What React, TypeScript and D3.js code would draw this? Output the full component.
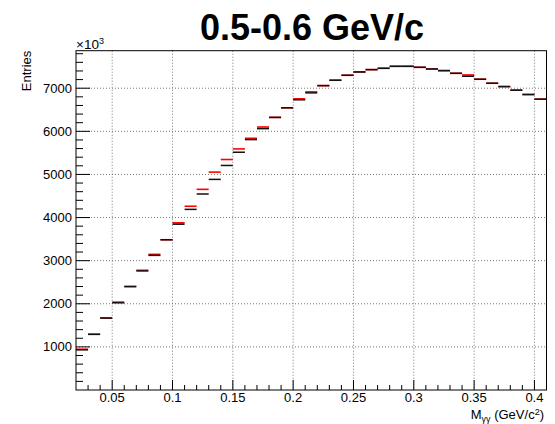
import React from "react";
import * as d3 from "d3";

const binLow = [
  0.02, 0.03, 0.04, 0.05, 0.06, 0.07, 0.08, 0.09, 0.1, 0.11, 0.12, 0.13, 0.14,
  0.15, 0.16, 0.17, 0.18, 0.19, 0.2, 0.21, 0.22, 0.23, 0.24, 0.25, 0.26, 0.27,
  0.28, 0.29, 0.3, 0.31, 0.32, 0.33, 0.34, 0.35, 0.36, 0.37, 0.38, 0.39, 0.4,
];
const binWidth = 0.01;

const blackValues = [
  931, 1292, 1669, 2023, 2400, 2762, 3123, 3485, 3846, 4190, 4546, 4885, 5208,
  5515, 5808, 6062, 6323, 6546, 6731, 6892, 7060, 7185, 7300, 7377, 7431, 7462,
  7508, 7508, 7485, 7446, 7408, 7346, 7277, 7208, 7115, 7038, 6954, 6854, 6746,
];
const redValues = [
  946, 1292, 1669, 2038, 2400, 2777, 3146, 3485, 3877, 4262, 4654, 5054, 5346,
  5592, 5838, 6100, 6323, 6546, 6754, 6915, 7060, 7185, 7300, 7377, 7431, 7462,
  7508, 7508, 7485, 7446, 7408, 7346, 7308, 7208, 7115, 7038, 6954, 6854, 6746,
];

const xTicks = [0.05, 0.1, 0.15, 0.2, 0.25, 0.3, 0.35, 0.4];
const xTickLabels = ["0.05", "0.1", "0.15", "0.2", "0.25", "0.3", "0.35", "0.4"];
const yTicks = [1000, 2000, 3000, 4000, 5000, 6000, 7000];
const yTickLabels = ["1000", "2000", "3000", "4000", "5000", "6000", "7000"];

const W = 555;
const H = 424;
const frame = { left: 76, right: 546.5, top: 50.7, bottom: 390 };
const font = "'Liberation Sans', Arial, Helvetica, sans-serif";

export default function App() {
  const x = d3.scaleLinear().domain([0.02, 0.41]).range([frame.left, frame.right]);
  const y = d3.scaleLinear().domain([0, 7870]).range([frame.bottom, frame.top]);

  const xMinor = d3.range(0.03, 0.41, 0.01).filter((v) => !xTicks.some((t) => Math.abs(t - v) < 1e-6));
  const yMinor = d3.range(200, 7870, 200).filter((v) => v % 1000 !== 0);

  return (
    <svg
      width={W}
      height={H}
      style={{ position: "fixed", left: 0, top: 0, background: "#fff" }}
      fontFamily={font}
    >
      <rect x={0} y={0} width={W} height={H} fill="#fff" />
      {/* grid */}
      {xTicks.map((t) => (
        <line key={"gx" + t} x1={x(t)} x2={x(t)} y1={frame.top} y2={frame.bottom} stroke="#777" strokeDasharray="1 2" strokeWidth={1} />
      ))}
      {yTicks.map((t) => (
        <line key={"gy" + t} x1={frame.left} x2={frame.right} y1={y(t)} y2={y(t)} stroke="#777" strokeDasharray="1 2" strokeWidth={1} />
      ))}
      {/* histograms */}
      {binLow.map((lo, i) => (
        <line key={"r" + i} x1={x(lo)} x2={x(lo + binWidth)} y1={y(redValues[i])} y2={y(redValues[i])} stroke="#ff0000" strokeWidth={1.6} />
      ))}
      {binLow.map((lo, i) => (
        <line key={"b" + i} x1={x(lo)} x2={x(lo + binWidth)} y1={y(blackValues[i])} y2={y(blackValues[i])} stroke="#111" strokeWidth={1.5} />
      ))}
      {/* frame */}
      <rect x={frame.left} y={frame.top} width={frame.right - frame.left} height={frame.bottom - frame.top} fill="none" stroke="#000" strokeWidth={1} />
      {/* x ticks */}
      {xTicks.map((t) => (
        <line key={"xt" + t} x1={x(t)} x2={x(t)} y1={frame.bottom} y2={frame.bottom - 10} stroke="#000" />
      ))}
      {xMinor.map((t) => (
        <line key={"xm" + t} x1={x(t)} x2={x(t)} y1={frame.bottom} y2={frame.bottom - 5} stroke="#000" />
      ))}
      {/* y ticks */}
      {yTicks.map((t) => (
        <line key={"yt" + t} x1={frame.left} x2={frame.left + 14} y1={y(t)} y2={y(t)} stroke="#000" />
      ))}
      {yMinor.map((t) => (
        <line key={"ym" + t} x1={frame.left} x2={frame.left + 7} y1={y(t)} y2={y(t)} stroke="#000" />
      ))}
      {/* tick labels */}
      {xTicks.map((t, i) => (
        <text key={"xl" + t} x={x(t)} y={402} fontSize={13} textAnchor="middle" fill="#000">
          {xTickLabels[i]}
        </text>
      ))}
      {yTicks.map((t, i) => (
        <text key={"yl" + t} x={72} y={y(t)} dy="0.35em" fontSize={13} textAnchor="end" fill="#000">
          {yTickLabels[i]}
        </text>
      ))}
      {/* multiplier */}
      <text x={76} y={48.5} fontSize={13.5} fill="#000">
        ×10<tspan dy={-5} fontSize={9}>3</tspan>
      </text>
      {/* axis titles */}
      <text x={544} y={419} fontSize={13} textAnchor="end" fill="#000">
        M<tspan dy={2.5} fontSize={9}>γγ</tspan>
        <tspan dy={-2.5}> (GeV/c</tspan>
        <tspan dy={-4.5} fontSize={9}>2</tspan>
        <tspan dy={4.5}>)</tspan>
      </text>
      <text transform={`translate(31, ${frame.top}) rotate(-90)`} fontSize={13} textAnchor="end" fill="#000">
        Entries
      </text>
      {/* title */}
      <text x={312} y={40} fontSize={36} fontWeight="bold" textAnchor="middle" fill="#000">
        0.5-0.6 GeV/c
      </text>
    </svg>
  );
}
